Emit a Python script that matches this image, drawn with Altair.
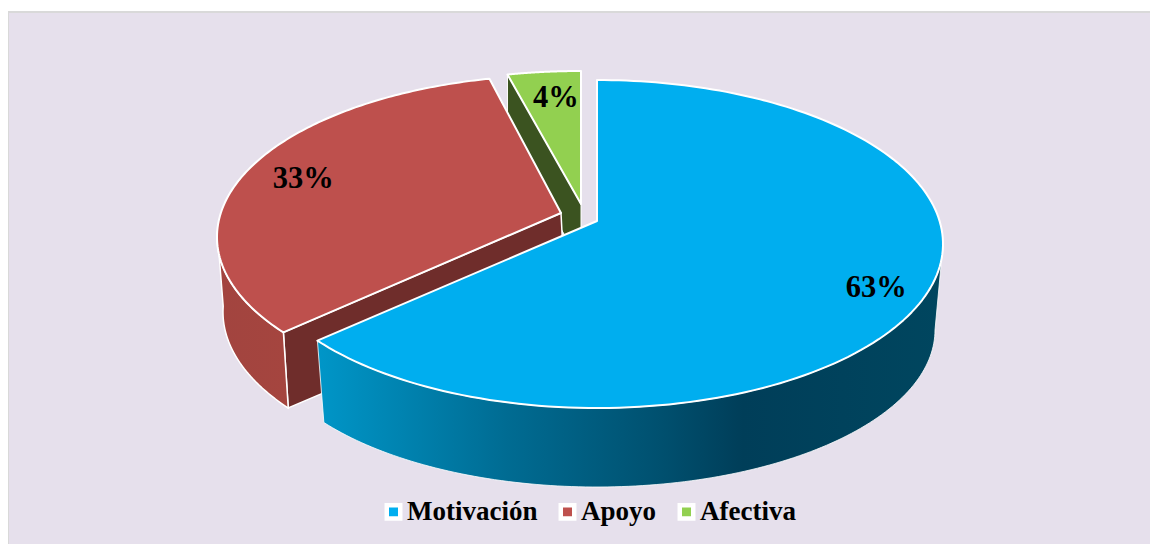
import numpy as np
import altair as alt

names = ["Motivación", "Apoyo", "Afectiva"]
shares = [63, 33, 4]
colors = ["#00AEEF", "#BE504D", "#92D050"]

OX, OY = 8, 12          # page position of the plot origin
PERSPECTIVE = 0.16      # how far the slice apex sits above the ellipse centre

# top ellipses (exploded slices): cx, cy, a, b ; bottom ellipses likewise
top = {"Motivación": (597, 244, 346, 164), "Apoyo": (563, 237, 346, 162), "Afectiva": (581, 226, 346, 155)}
bot = {"Motivación": (597, 330, 338, 157), "Apoyo": (563, 312, 340, 163)}
apex = {"Motivación": (597, 221), "Apoyo": (561, 213), "Afectiva": (581, 204)}
label_nudge = {"Motivación": (-2, 9), "Apoyo": (4, -1), "Afectiva": (6, 1)}


def warp(deg):
    """Perspective: true pie angle (clockwise from top) to ellipse parameter."""
    th = np.radians(np.asarray(deg, float))
    e = PERSPECTIVE / (1 + np.sqrt(1 - PERSPECTIVE ** 2))
    z = np.exp(1j * (np.pi / 2 - th))
    a = 1j * e
    w = (z + a) / (1 + np.conj(a) * z)
    delta = np.angle(w / z)
    return th - delta


def ell(p, t):
    cx, cy, a, b = p
    return np.column_stack([cx + a * np.sin(t), cy - b * np.cos(t)])


def feature(name, pts):
    pts = [[float(x), float(y)] for x, y in pts]
    pts.append(pts[0])
    return {"type": "Feature", "properties": {"name": name},
            "geometry": {"type": "Polygon", "coordinates": [pts]}}


bounds = np.cumsum([0] + shares) / sum(shares) * 360
span = {n: (bounds[i], bounds[i + 1]) for i, n in enumerate(names)}


def top_face(n):
    a0, a1 = span[n]
    t = warp(np.linspace(a0, a1, 160))
    return feature(n, [apex[n], *ell(top[n], t)])


def outer_wall(n, a0, a1):
    t = np.linspace(a0, a1, 120)
    return feature(n, [*ell(top[n], t), *ell(bot[n], t[::-1])])


proj = dict(type="identity", scale=1, translate=[-OX, -OY])
color = alt.Color("properties.name:N",
                  scale=alt.Scale(domain=names, range=colors),
                  legend=alt.Legend(title=None, orient="none", direction="horizontal",
                                    columns=3, legendX=372, legendY=486,
                                    symbolType="square", symbolSize=182, symbolOpacity=1,
                                    symbolStrokeColor="white", symbolStrokeWidth=4.5,
                                    labelFont="Liberation Serif", labelFontWeight="bold",
                                    labelFontSize=27, labelColor="black", labelLimit=300,
                                    labelOffset=0, columnPadding=13, symbolOffset=0))


def face(feat, **mark):
    return alt.Chart(alt.Data(values=[feat])).mark_geoshape(**mark).project(**proj)


def colored(feat):
    return (alt.Chart(alt.Data(values=[feat]))
            .mark_geoshape(stroke="white", strokeWidth=2, strokeJoin="round", fillOpacity=1)
            .encode(color=color).project(**proj))


# inner cut faces, from the visible corners of each slice's top
green_corner = ell(top["Afectiva"], warp([span["Afectiva"][0]]))[0]
green_cut = feature("Afectiva", [green_corner, apex["Afectiva"],
                                 (apex["Afectiva"][0], apex["Afectiva"][1] + 60),
                                 (green_corner[0], green_corner[1] + 60)])
red_t = warp([span["Apoyo"][0]])
red_cut = feature("Apoyo", [apex["Apoyo"], ell(top["Apoyo"], red_t)[0], ell(bot["Apoyo"], red_t)[0],
                            (565, 290)])

blue_t0 = np.pi / 2
blue_t1 = warp([span["Motivación"][1]])[0]
red_t1 = np.radians(272)

blue_grad = {"gradient": "linear", "x1": 0, "x2": 1, "y1": 0, "y2": 0,
             "stops": [{"offset": 0, "color": "#0096C8"},
                       {"offset": 0.3, "color": "#006C93"},
                       {"offset": 0.55, "color": "#00506F"},
                       {"offset": 0.68, "color": "#003E59"},
                       {"offset": 1, "color": "#00465F"}]}
red_grad = {"gradient": "linear", "x1": 0, "x2": 1, "y1": 0, "y2": 0,
            "stops": [{"offset": 0, "color": "#A2443F"},
                      {"offset": 1, "color": "#A5453F"}]}

panel = (alt.Chart(alt.Data(values=[{"k": 0}]))
         .mark_rect(fill="#E6E0EC", stroke="#D9D9D9", strokeWidth=2)
         .encode(x=alt.value(0), x2=alt.value(1160), y=alt.value(0), y2=alt.value(540)))

layers = [
    panel,
    face(green_cut, fill="#3B5320", stroke="white", strokeWidth=1),
    colored(top_face("Afectiva")),
    face(red_cut, fill="#6F2D2B", stroke="white", strokeWidth=1.5),
    face(outer_wall("Apoyo", red_t[0], red_t1), fill=red_grad, stroke="white", strokeWidth=1.5),
    colored(top_face("Apoyo")),
    face(outer_wall("Motivación", blue_t0, blue_t1), fill=blue_grad, stroke="white", strokeWidth=0.8),
    colored(top_face("Motivación")),
]

LABEL_R = 0.84
label_rows = []
for n, s in zip(names, shares):
    mid = warp([sum(span[n]) / 2])[0]
    cx, cy, a, b = top[n]
    dx, dy = label_nudge[n]
    label_rows.append({"lon": float(cx + LABEL_R * a * np.sin(mid) + dx),
                       "lat": float(cy - LABEL_R * b * np.cos(mid) + dy),
                       "text": f"{s}%"})

labels = (alt.Chart(alt.Data(values=label_rows))
          .mark_text(font="Liberation Serif", fontWeight="bold", fontSize=30.5, color="black",
                     align="center", baseline="middle")
          .encode(longitude="lon:Q", latitude="lat:Q", text="text:N")
          .project(**proj))

chart = (alt.layer(*layers, labels)
         .properties(width=1142, height=532, background="white",
                     padding={"left": 0, "top": 4, "right": 0, "bottom": 0},
                     autosize=alt.AutoSizeParams(type="none"))
         .configure_view(strokeWidth=0))

chart.save("out.html", embed_options={"renderer": "svg", "actions": False})
